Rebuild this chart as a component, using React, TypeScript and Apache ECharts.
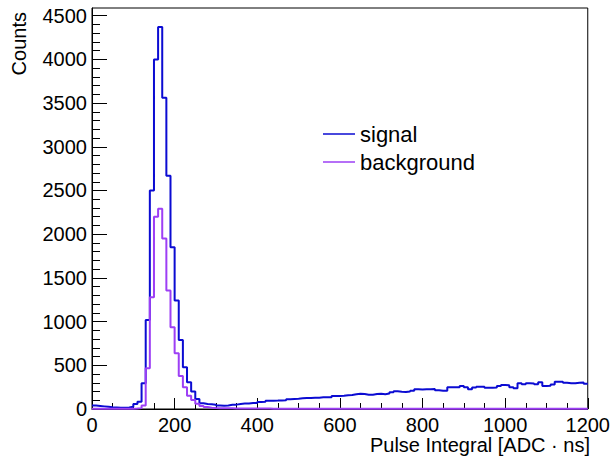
import { useEffect, useRef } from "react";
import * as echarts from "echarts";

const FONT = "'Liberation Sans', Arial, Helvetica, sans-serif";
const BIN_WIDTH = 10;
const X_MIN = 0;
const X_MAX = 1200;
const Y_MAX = 4588;

const seriesNames = ["signal", "background"];
const seriesColors = ["#0b0bd2", "#9d3ff5"];

// Counts per 10-unit bin, 0 .. 1200
const signalCounts = [
  40, 35, 30, 25, 20, 18, 15, 15, 18, 25,
  57, 84, 294, 1019, 2500, 4000, 4370, 3560, 2670, 1850,
  1240, 790, 477, 305, 199, 115, 65, 58, 54, 50,
  40, 38, 40, 48, 50, 58, 62, 64, 68, 70,
  80, 82, 95, 95, 96, 98, 100, 112, 115, 118,
  122, 125, 126, 128, 130, 134, 134, 134, 149, 150,
  152, 158, 160, 168, 175, 172, 164, 164, 172, 175,
  170, 178, 192, 203, 198, 195, 200, 210, 226, 224,
  226, 226, 228, 215, 210, 210, 248, 250, 248, 263,
  250, 226, 245, 256, 256, 244, 242, 246, 262, 275,
  272, 248, 237, 294, 283, 294, 292, 283, 306, 263,
  265, 280, 313, 313, 300, 294, 294, 301, 303, 290,
];

const backgroundCounts = [
  3, 3, 3, 3, 3, 3, 3, 3, 3, 4,
  5, 10, 40, 466, 1280, 2200, 2290, 1950, 1355, 936,
  638, 378, 248, 153, 103, 60, 35, 22, 15, 12,
  10, 9, 8, 8, 7, 7, 6, 6, 6, 5,
  5, 5, 5, 4, 4, 4, 4, 4, 4, 4,
  4, 4, 3, 3, 3, 3, 3, 3, 3, 3,
  3, 3, 3, 3, 3, 3, 3, 3, 3, 3,
  3, 3, 3, 3, 3, 3, 3, 3, 3, 3,
  3, 3, 3, 3, 3, 3, 3, 3, 3, 3,
  3, 3, 3, 3, 3, 3, 3, 3, 3, 3,
  3, 3, 3, 3, 3, 3, 3, 3, 3, 3,
  3, 3, 3, 3, 3, 3, 3, 3, 3, 3,
];

const yMajorTicks = [0, 500, 1000, 1500, 2000, 2500, 3000, 3500, 4000, 4500];
const Y_MINOR_STEP = 100;
const X_INTERVAL = 200;

const xTitle = "Pulse Integral [ADC \u00b7 ns]";
const yTitle = "Counts";

function toSteps(counts: number[]) {
  const pts = counts.map((c, i) => [X_MIN + i * BIN_WIDTH, c]);
  pts.push([X_MIN + counts.length * BIN_WIDTH, counts[counts.length - 1]]);
  return pts;
}

export default function App() {
  const ref = useRef<HTMLDivElement>(null);
  useEffect(() => {
    if (!ref.current) return;
    const chart = echarts.init(ref.current, null, { renderer: "svg" });
    const yMinorTicks: number[] = [];
    for (let v = 0; v <= 4500; v += Y_MINOR_STEP) {
      if (!yMajorTicks.includes(v)) yMinorTicks.push(v);
    }
    const black = "#000";
    const plain = (v: number) => String(v);
    chart.setOption({
      animation: false,
      backgroundColor: "#fff",
      grid: {
        left: 92,
        right: 23,
        top: 8,
        bottom: 52,
        show: true,
        borderColor: black,
        borderWidth: 1,
        backgroundColor: "transparent",
      },
      legend: {
        data: seriesNames,
        orient: "vertical",
        left: 318,
        top: 118,
        icon: "rect",
        itemWidth: 32,
        itemHeight: 1.5,
        itemGap: 6,
        textStyle: { fontSize: 22, lineHeight: 22, color: black, fontFamily: FONT },
      },
      xAxis: {
        type: "value",
        min: X_MIN,
        max: X_MAX,
        interval: X_INTERVAL,
        axisLine: { lineStyle: { color: black, width: 1 } },
        axisTick: { inside: true, length: 11, lineStyle: { color: black } },
        minorTick: { show: true, splitNumber: 4, length: 6, lineStyle: { color: black } },
        splitLine: { show: false },
        minorSplitLine: { show: false },
        axisLabel: {
          color: black,
          fontSize: 20,
          lineHeight: 20,
          fontFamily: FONT,
          margin: 6,
          showMinLabel: true,
          showMaxLabel: true,
          formatter: plain,
        },
      },
      yAxis: [
        {
          type: "value",
          min: 0,
          max: Y_MAX,
          position: "left",
          axisLine: { show: true, lineStyle: { color: black, width: 1 } },
          axisTick: {
            inside: true,
            length: 15,
            customValues: yMajorTicks,
            lineStyle: { color: black },
          },
          axisLabel: {
            customValues: yMajorTicks,
            color: black,
            fontSize: 20,
            fontFamily: FONT,
            margin: 5,
            formatter: plain,
          },
          splitLine: { show: false },
        },
        {
          type: "value",
          min: 0,
          max: Y_MAX,
          position: "left",
          axisLine: { show: false },
          axisTick: {
            inside: true,
            length: 8,
            customValues: yMinorTicks,
            lineStyle: { color: black },
          },
          axisLabel: { show: false },
          splitLine: { show: false },
        },
      ],
      graphic: [
        {
          type: "text",
          right: 23,
          top: 435,
          style: { text: xTitle, fill: black, font: `20px ${FONT}` },
        },
        {
          type: "text",
          x: 9,
          y: 12,
          rotation: Math.PI / 2,
          style: {
            text: yTitle,
            fill: black,
            font: `20px ${FONT}`,
            align: "right",
            verticalAlign: "top",
          },
        },
      ],
      series: [
        {
          name: seriesNames[0],
          type: "line",
          step: "end",
          symbol: "none",
          data: toSteps(signalCounts),
          color: seriesColors[0],
          lineStyle: { width: 2, color: seriesColors[0] },
          yAxisIndex: 0,
        },
        {
          name: seriesNames[1],
          type: "line",
          step: "end",
          symbol: "none",
          data: toSteps(backgroundCounts),
          color: seriesColors[1],
          lineStyle: { width: 2, color: seriesColors[1] },
          yAxisIndex: 0,
        },
      ],
    });
    return () => chart.dispose();
  }, []);
  return (
    <div
      ref={ref}
      style={{ position: "fixed", left: 0, top: 0, width: 613, height: 461, background: "#fff" }}
    />
  );
}
